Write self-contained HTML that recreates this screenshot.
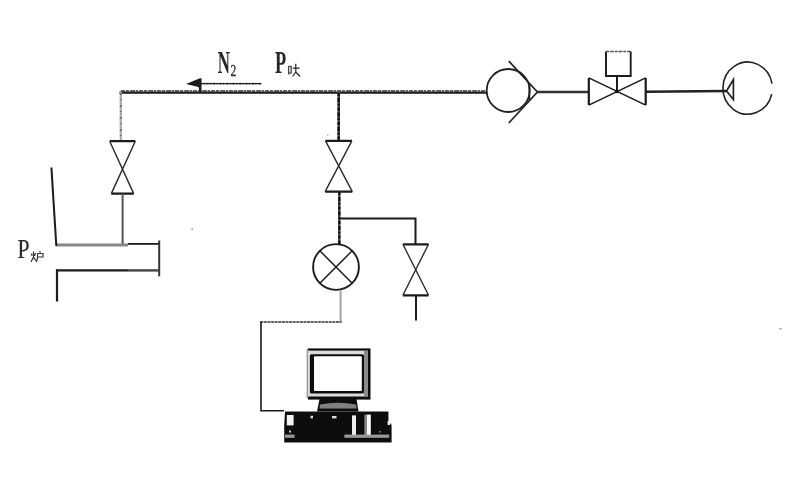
<!DOCTYPE html>
<html><head><meta charset="utf-8">
<style>
html,body{margin:0;padding:0;background:#fff;}
body{width:800px;height:500px;overflow:hidden;font-family:"Liberation Serif",serif;}
svg{display:block;filter:grayscale(1);}
</style></head>
<body>
<svg width="800" height="500" viewBox="0 0 800 500">
<defs><filter id="soft" filterUnits="userSpaceOnUse" x="0" y="0" width="800" height="500"><feGaussianBlur stdDeviation="0.4"/></filter></defs>
<rect width="800" height="500" fill="#fff"/>
<g filter="url(#soft)">
<g fill="none" stroke-linecap="butt">
<line x1="119.5" y1="92.6" x2="487" y2="92.6" stroke="#1a1a1a" stroke-width="2.3"/>
<line x1="121" y1="90.8" x2="487" y2="90.8" stroke="#2a2a2a" stroke-width="1.3" stroke-dasharray="4 1 3 1.2 5 0.8 2 1"/>
<line x1="537" y1="92" x2="589" y2="92" stroke="#333" stroke-width="2.4"/>
<line x1="646" y1="91.7" x2="726.5" y2="91" stroke="#222" stroke-width="2.4"/>
<line x1="200" y1="83.8" x2="261.5" y2="83.8" stroke="#aaa" stroke-width="2.6" stroke-dasharray="2 1.5 1 2"/>
<line x1="200" y1="83.7" x2="261.5" y2="83.7" stroke="#222" stroke-width="1.2"/>
<path d="M186,84 L200,78.3 L201.5,78.3 L201.5,92 L199.5,92 L198.5,87 Z" fill="#1a1a1a"/>
<line x1="120.8" y1="92" x2="120.8" y2="141" stroke="#aaa" stroke-width="2.2"/>
<line x1="120.8" y1="93" x2="120.8" y2="141" stroke="#777" stroke-width="2" stroke-dasharray="2 4 1 5"/>
<path d="M109.7,141.2 L135.3,141.2 M111.3,193.6 L133.7,193.6" stroke="#1a1a1a" stroke-width="2.3"/>
<path d="M109.7,141.2 L133.7,193.6 M135.3,141.2 L111.3,193.6" stroke="#2a2a2a" stroke-width="1.4"/>

<line x1="122.6" y1="193.6" x2="122.6" y2="245" stroke="#555" stroke-width="2"/>
<line x1="56" y1="245" x2="128" y2="245" stroke="#888" stroke-width="3"/>
<line x1="128" y1="243.9" x2="159.5" y2="243.9" stroke="#1a1a1a" stroke-width="1.8"/>
<line x1="159.2" y1="240.5" x2="159.2" y2="276.3" stroke="#333" stroke-width="2"/>
<line x1="56" y1="270.4" x2="128" y2="270.4" stroke="#1a1a1a" stroke-width="2.2"/>
<line x1="128" y1="270.4" x2="159.5" y2="270.4" stroke="#444" stroke-width="2.4"/>
<line x1="51.4" y1="167.5" x2="56.3" y2="246" stroke="#1a1a1a" stroke-width="2"/>
<line x1="57" y1="269.5" x2="57" y2="301.5" stroke="#1a1a1a" stroke-width="2.2"/>
<line x1="338.7" y1="92" x2="338.7" y2="141" stroke="#444" stroke-width="2.6"/>
<line x1="338.7" y1="93" x2="338.7" y2="141" stroke="#111" stroke-width="2.4" stroke-dasharray="3 2 4 1.5 2 2"/>
<path d="M325.5,140.9 L351.9,140.9 M325.09999999999997,191.6 L352.3,191.6" stroke="#1a1a1a" stroke-width="2.3"/>
<path d="M325.5,140.9 L352.3,191.6 M351.9,140.9 L325.09999999999997,191.6" stroke="#2a2a2a" stroke-width="1.4"/>

<line x1="339.3" y1="191.6" x2="339.3" y2="244.5" stroke="#444" stroke-width="2.4"/>
<line x1="339.3" y1="192" x2="339.3" y2="244.5" stroke="#111" stroke-width="2.2" stroke-dasharray="3 2 4 1.5 2 2"/>
<polyline points="339,218.5 415.5,218.5 415.5,244.5" stroke="#1a1a1a" stroke-width="2"/>
<path d="M402.9,244.3 L428.5,244.3 M402.9,295.3 L428.5,295.3" stroke="#1a1a1a" stroke-width="2.3"/>
<path d="M402.9,244.3 L428.5,295.3 M428.5,244.3 L402.9,295.3" stroke="#2a2a2a" stroke-width="1.4"/>

<line x1="416" y1="295.3" x2="416" y2="320.5" stroke="#1a1a1a" stroke-width="2"/>
<circle cx="336" cy="267" r="22.9" stroke="#1a1a1a" stroke-width="1.9"/>
<path d="M319.8,250.8 L352.2,283.2 M352.2,250.8 L319.8,283.2" stroke="#1a1a1a" stroke-width="1.5"/>
<line x1="340.6" y1="290" x2="340.6" y2="322" stroke="#aaa" stroke-width="2.2"/>
<line x1="260.3" y1="321.9" x2="341.6" y2="321.9" stroke="#333" stroke-width="1.5" stroke-dasharray="3 0.6"/>
<polyline points="261,321.2 261,410.8 284,410.8" stroke="#1a1a1a" stroke-width="1.6"/>
<circle cx="508.2" cy="90.5" r="21.5" stroke="#222" stroke-width="1.8"/>
<path d="M508.8,61.2 L537.4,92 L508.8,123" stroke="#222" stroke-width="1.7"/>
<line x1="529.4" y1="84.3" x2="529.4" y2="100.8" stroke="#222" stroke-width="1.7"/>
<path d="M588.8,77.9 L588.8,105.1 M645.7,77.9 L645.7,105.1" stroke="#1a1a1a" stroke-width="2.2"/>
<path d="M588.8,77.9 L645.7,105.1 M588.8,105.1 L645.7,77.9" stroke="#1a1a1a" stroke-width="1.6"/>

<line x1="617" y1="76" x2="617" y2="91.5" stroke="#1a1a1a" stroke-width="2"/>
<path d="M606,51.5 L606,76 L630.7,76 L630.7,51.5" stroke="#1a1a1a" stroke-width="1.9"/>
<line x1="606" y1="51.5" x2="630.7" y2="51.5" stroke="#555" stroke-width="1.5" stroke-dasharray="3 0.8 4 0.8"/>
<circle cx="617" cy="91.5" r="1.8" fill="#111" stroke="none"/>
<path d="M771.7,94.1 A24.7,26 0 1 1 772.0,83.7" stroke="#222" stroke-width="1.6"/>
<path d="M726.5,91 L733.4,79.5 L733.4,99.5 Z" stroke="#222" stroke-width="1.7"/>
</g>
<g>
  <!-- monitor -->
  <rect x="308" y="348.4" width="62.5" height="51.2" fill="#111"/>
  <rect x="306.6" y="349" width="1.6" height="49" fill="#999"/>
  <rect x="308" y="350.6" width="60" height="45.9" fill="#dcdcdc"/>
  <rect x="364" y="351" width="4" height="45" fill="#8a8a8a"/>
  <rect x="309.9" y="354.3" width="54.1" height="39.2" rx="1.5" fill="#111"/>
  <rect x="314" y="356.3" width="47.8" height="34.7" rx="1" fill="#fff"/>
  <!-- stand -->
  <path d="M319.5,399 L356.5,399 L358.5,411.5 L317,411.5 Z" fill="#111"/>
  <path d="M320,404.5 Q338,401 356,404.5 L356.5,408.5 L319.5,408.5 Z" fill="#808080"/>
  <!-- base -->
  <path d="M285,411.6 L388.4,411.6 L388.4,421 L391.6,425 L391.6,442.6 L284.2,442.6 L284.2,425 Z" fill="#111"/>
  <rect x="286.8" y="415" width="6.8" height="10.4" fill="#f2f2f2"/>
  <rect x="289" y="430.5" width="2" height="2" fill="#ccc"/>
  <rect x="285" y="434.6" width="9.5" height="3.2" fill="#999"/>
  <rect x="310.5" y="415.8" width="2.5" height="2.5" fill="#ddd"/>
  <rect x="332" y="416" width="4.5" height="2.4" fill="#ddd"/>
  <rect x="352" y="415.4" width="4" height="20.4" fill="#eee"/>
  <rect x="364.4" y="414.6" width="2.5" height="21" fill="#888"/>
  <rect x="366.9" y="414.6" width="3.9" height="21" fill="#fafafa"/>
  <rect x="344.4" y="434.6" width="44.8" height="3.2" fill="#9a9a9a"/>
  <rect x="387.6" y="421" width="2.4" height="4" fill="#eee"/>
  <rect x="379" y="431" width="1.5" height="1.5" fill="#888"/>
</g>

<g font-family="Liberation Serif" fill="#282828" stroke="#282828" stroke-width="0.35">
  <text x="0" y="0" font-size="31" font-weight="bold" stroke-width="0" transform="translate(217.8,72.8) scale(0.545,1)">N</text>
  <text x="0" y="0" font-size="16" stroke-width="0.3" transform="translate(230.6,76.4) scale(0.72,1)">2</text>
  <text x="0" y="0" font-size="30.5" font-weight="bold" stroke-width="0" transform="translate(275,72.8) scale(0.6,1)">P</text>
  <text x="0" y="0" font-size="28" fill="#2a2a2a" stroke="#2a2a2a" stroke-width="0.2" transform="translate(17.4,258) scale(0.77,1)">P</text>
</g>
<g fill="none" stroke="#222" stroke-width="1.2">
  <path d="M288.6,66 L288.6,74.5 M288.6,66.3 L291.2,66.3 L291.2,73.5 M288.6,73.2 L291.2,73.2" stroke="#444" stroke-width="1.3"/>
  <path d="M295.8,63.8 L295.8,72.5 M292.8,68.2 L299.6,68.2 M295.8,72 L292.6,76.5 M295.8,72 L300,76.5"/>
</g>
<g fill="none" stroke="#333" stroke-width="1.2">
  <path d="M31.5,253.5 L32,256 M35.5,253 L34.5,256 M33.5,251.5 L33.5,257 L31,262 M33.5,257 L36,261"/>
  <path d="M39.5,251 L40.5,252.5 M37.5,253.5 L43,253.5 L43,257 L37.5,257 M37.5,253.5 L37.5,258 L36.5,262"/>
</g>
<rect x="779" y="328" width="3" height="1.5" fill="#bbb"/>
<rect x="191.3" y="228.3" width="1.8" height="1.8" fill="#aaa"/>
<rect x="327" y="134.5" width="1.5" height="1.5" fill="#bbb"/>

</g>
</svg>
</body></html>
